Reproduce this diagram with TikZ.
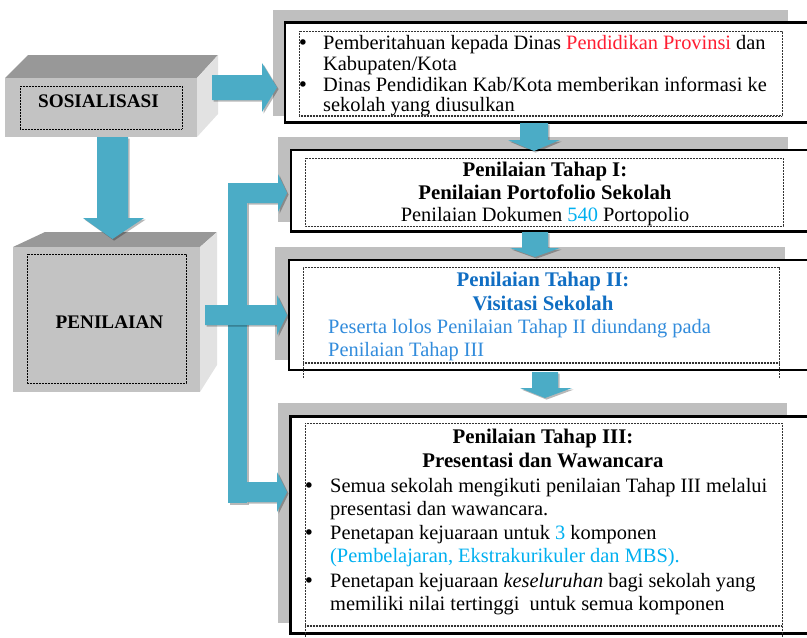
\documentclass[tikz,border=0pt]{standalone}
\usepackage{fontspec}
\setmainfont{Liberation Serif}
\newfontfamily\bulletfamily{DejaVu Sans}
\definecolor{arrowblue}{RGB}{75,172,198}
\definecolor{cubefront}{RGB}{195,195,195}
\definecolor{cubetop}{RGB}{152,152,152}
\definecolor{cubeside}{RGB}{226,226,226}
\definecolor{shadowgray}{RGB}{191,191,191}
\definecolor{txtred}{RGB}{255,30,50}
\definecolor{txtcyan}{RGB}{0,176,240}
\definecolor{titleblue}{RGB}{16,110,195}
\definecolor{bodyblue}{RGB}{50,140,220}
\newcommand{\bodyfont}{\fontsize{20.4}{24}\selectfont}
\newcommand{\titlefont}{\fontsize{20.8}{24}\selectfont\bfseries}
\newcommand{\cubefont}{\fontsize{19.2}{22}\selectfont\bfseries}
\newcommand{\bulfont}{\bulletfamily\fontsize{19}{22}\selectfont}
\begin{document}
\begin{tikzpicture}[x=1pt,y=-1pt,
  blockarrow/.style={fill=arrowblue,draw=none,
    preaction={fill=black,opacity=0.28,transform canvas={shift={(1.6pt,-1.6pt)}}}},
  dotbox/.style={draw=black!80,line width=0.7pt,dash pattern=on 0.7pt off 0.8pt},
  frame/.style={draw=black,line width=2.4pt,fill=white},
  shade/.style={fill=shadowgray,draw=none},
  bodytxt/.style={inner sep=0pt,anchor=base west,font=\bodyfont},
  ctitle/.style={inner sep=0pt,anchor=base,font=\titlefont},
  ctxt/.style={inner sep=0pt,anchor=base,font=\bodyfont},
  bul/.style={inner sep=0pt,anchor=base,font=\bulfont},
  cubetxt/.style={inner sep=0pt,anchor=base,font=\cubefont}]
\useasboundingbox (0,0) rectangle (807,638);

% ---------- cube SOSIALISASI ----------
\fill[cubetop] (5,78) -- (28,55) -- (218,55) -- (197,78) -- cycle;
\fill[cubeside] (197,78) -- (218,55) -- (218,114) -- (197,137) -- cycle;
\fill[cubefront] (5,78) rectangle (197,137);
\draw[dotbox,draw=black] (20,86) rectangle (182,129);
\node[cubetxt] (sos) at (98.5,107.7) {SOSIALISASI};

% ---------- cube PENILAIAN ----------
\fill[cubetop] (13,247) -- (45,232) -- (217,232) -- (200,247) -- cycle;
\fill[cubeside] (200,247) -- (217,232) -- (217,365) -- (200,392) -- cycle;
\fill[cubefront] (13,247) rectangle (200,392);
\draw[dotbox,draw=black] (27,254) rectangle (186,383);
\node[cubetxt] (pen) at (109.5,328.3) {PENILAIAN};

% ---------- box 1 ----------
\fill[shade] (273,10) rectangle (788,116);
\draw[frame] (285,22.5) rectangle (814,122.5);
\begin{scope}
\clip (299,31) rectangle (782,115);
\node[bul] (b1a) at (303,49.3) {•};
\node[bodytxt] (t1a) at (323,49.3) {Pemberitahuan kepada Dinas \textcolor{txtred}{Pendidikan Provinsi} dan};
\node[bodytxt] (t1b) at (323,70) {Kabupaten/Kota};
\node[bul] (b1b) at (303,91.7) {•};
\node[bodytxt] (t1c) at (323,91.7) {Dinas Pendidikan Kab/Kota memberikan informasi ke};
\node[bodytxt] (t1d) at (323,111.7) {sekolah yang diusulkan};
\end{scope}
\draw[dotbox] (299,31) rectangle (782,115);
\draw[dotbox] (299,116.3) -- (782,116.3);

% ---------- box 2 ----------
\fill[shade] (278,137) rectangle (788,222);
\draw[frame] (291,150) rectangle (814,231.5);
\node[ctitle] (t2a) at (545,176.7) {Penilaian Tahap I:};
\node[ctitle] (t2b) at (545,199) {Penilaian Portofolio Sekolah};
\node[ctxt] (t2c) at (545,221.7) {Penilaian Dokumen \textcolor{txtcyan}{540} Portopolio};
\draw[dotbox] (305,158) rectangle (783,226);

% ---------- box 3 ----------
\fill[shade] (275,247) rectangle (785,360);
\draw[frame] (289,260) rectangle (814,370);
\node[ctitle,text=titleblue] (t3a) at (543,286.7) {Penilaian Tahap II:};
\node[ctitle,text=titleblue] (t3b) at (543,310) {Visitasi Sekolah};
\node[bodytxt,text=bodyblue] (t3c) at (328,333.3) {Peserta lolos Penilaian Tahap II diundang pada};
\node[bodytxt,text=bodyblue] (t3d) at (328,356) {Penilaian Tahap III};
\draw[dotbox] (303,378) -- (303,267) -- (779,267) -- (779,378);
\draw[dotbox] (303,362) -- (779,362);
\draw[dotbox] (303,363.5) -- (779,363.5);

% ---------- box 4 ----------
\fill[shade] (278,403) rectangle (787,623);
\draw[frame] (290.5,416.5) rectangle (814,633.5);
\node[ctitle] (t4a) at (543,443.3) {Penilaian Tahap III:};
\node[ctitle] (t4b) at (543,467.3) {Presentasi dan Wawancara};
\node[bul] (b4a) at (309,492.7) {•};
\node[bodytxt] (t4c) at (330,492.7) {Semua sekolah mengikuti penilaian Tahap III melalui};
\node[bodytxt] (t4d) at (330,515) {presentasi dan wawancara.};
\node[bul] (b4b) at (309,539.3) {•};
\node[bodytxt] (t4e) at (330,539.3) {Penetapan kejuaraan untuk \textcolor{txtcyan}{3} komponen};
\node[bodytxt,text=txtcyan] (t4f) at (330,562.7) {(Pembelajaran, Ekstrakurikuler dan MBS).};
\node[bul] (b4c) at (309,587.3) {•};
\node[bodytxt] (t4g) at (330,587.3) {Penetapan kejuaraan \textit{keseluruhan} bagi sekolah yang};
\node[bodytxt] (t4h) at (330,610) {memiliki nilai tertinggi\ \ untuk semua komponen};
\draw[dotbox] (305,640) -- (305,423) -- (782,423) -- (782,640);
\draw[dotbox] (305,625) -- (782,625);
\draw[dotbox] (305,626.5) -- (782,626.5);

% ---------- block arrows ----------
\path[blockarrow] (212,75) -- (262,75) -- (262,63) -- (277,87.5) -- (262,112) -- (262,100) -- (212,100) -- cycle;
\path[blockarrow] (97,137) -- (128,137) -- (128,218) -- (144,218) -- (112.5,239) -- (83,218) -- (97,218) -- cycle;
\path[blockarrow] (228,183) rectangle (247,503);
\path[blockarrow] (247,183) -- (278,183) -- (278,174) -- (287,193) -- (278,212) -- (278,203) -- (247,203) -- cycle;
\path[blockarrow] (205,305) -- (277,305) -- (277,295) -- (287,315) -- (277,335) -- (277,325) -- (205,325) -- cycle;
\path[blockarrow] (247,482) -- (277,482) -- (277,472) -- (287,492) -- (277,512) -- (277,502) -- (247,502) -- cycle;
\path[blockarrow] (520,123) -- (548,123) -- (548,140) -- (560,140) -- (534,151) -- (508,140) -- (520,140) -- cycle;
\path[blockarrow] (522,232) -- (548,232) -- (548,248) -- (560,248) -- (535,257) -- (510,248) -- (522,248) -- cycle;
\path[blockarrow] (532,372) -- (558,372) -- (558,388) -- (572,388) -- (545,398) -- (520,388) -- (532,388) -- cycle;
\end{tikzpicture}
\end{document}
